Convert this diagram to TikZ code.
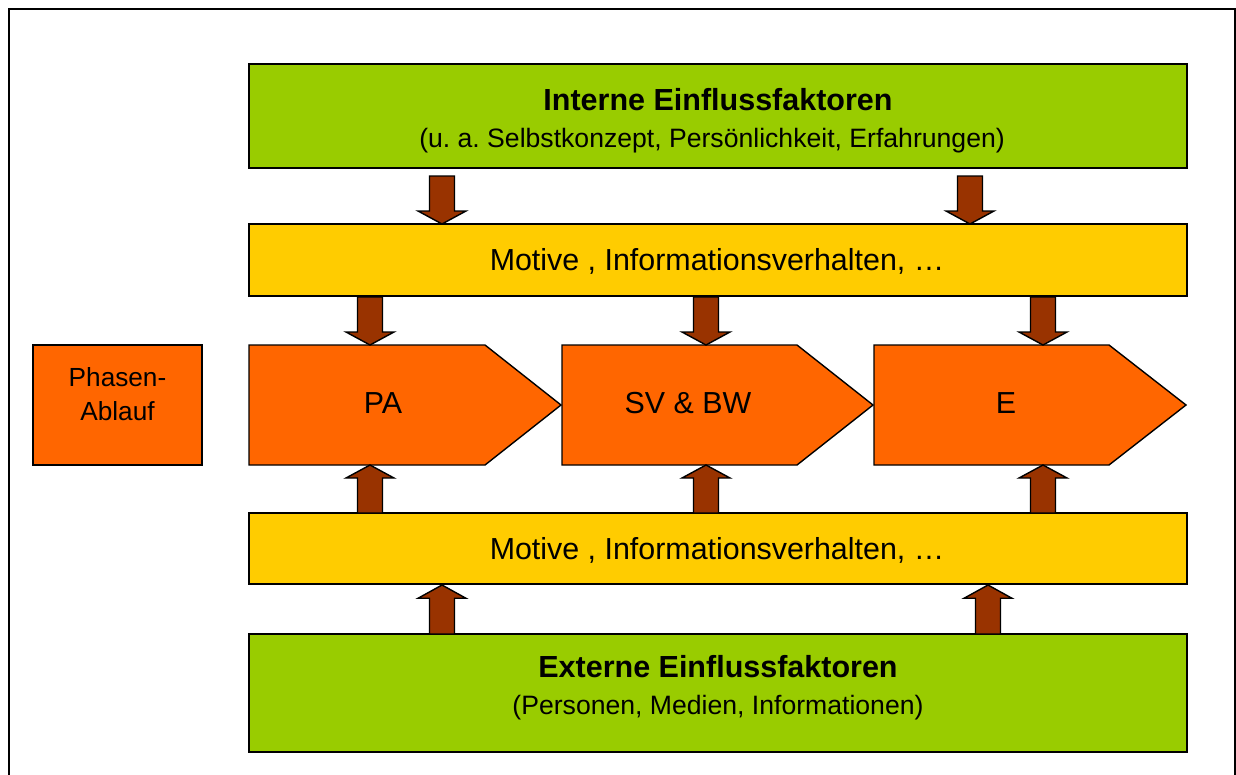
\documentclass[tikz,border=0pt]{standalone}
\usepackage{fontspec}
\setmainfont{Liberation Sans}
\frenchspacing
\definecolor{boxgreen}{HTML}{99CC00}
\definecolor{boxyellow}{HTML}{FFCC00}
\definecolor{boxorange}{HTML}{FF6600}
\definecolor{arrowbrown}{HTML}{993300}
\tikzset{
  band/.style={draw=black, line width=1.6pt, inner sep=0pt, minimum width=938pt},
  greenbox/.style={band, fill=boxgreen},
  yellowbox/.style={band, fill=boxyellow, minimum height=72pt},
  phasebox/.style={draw=black, line width=1.4pt, fill=boxorange},
  blockarrow/.style={draw=black, line width=1.4pt, fill=arrowbrown, line join=miter},
  titletext/.style={anchor=base, font=\fontsize{30.5}{36}\selectfont\bfseries},
  subtext/.style={anchor=base, font=\fontsize{26.6}{32}\selectfont},
  bandtext/.style={anchor=base, font=\fontsize{30.4}{36}\selectfont},
  smalltext/.style={anchor=base, font=\fontsize{26.2}{31}\selectfont},
}
% block arrow: x, tail y, tip y
\newcommand{\barrow}[3]{%
  \path[blockarrow] ({#1-12.5},#2) -- ({#1-12.5},{#3+(#2-#3)*13/48})
    -- ({#1-24},{#3+(#2-#3)*13/48}) -- (#1,#3) -- ({#1+24},{#3+(#2-#3)*13/48})
    -- ({#1+12.5},{#3+(#2-#3)*13/48}) -- ({#1+12.5},#2) -- cycle;}
\begin{document}
\begin{tikzpicture}[x=1pt,y=-1pt]
\useasboundingbox (0,0) rectangle (1236,774);
\begin{scope}
\clip (0,0) rectangle (1236,774);
\draw[line width=2pt] (9,790) -- (9,9) -- (1235,9) -- (1235,790);
\end{scope}

% top green box
\node[greenbox, minimum height=104pt] (intern) at (718,116) {};
\node[titletext] (internT) at (718,110) {Interne Einflussfaktoren};
\node[subtext] (internS) at (712,147) {(u. a. Selbstkonzept, Persönlichkeit, Erfahrungen)};

% yellow bands
\node[yellowbox] (mot1) at (718,260) {};
\node[bandtext] (mot1T) at (717,270) {Motive , Informationsverhalten, …};
\node[yellowbox, minimum height=71pt] (mot2) at (718,548.5) {};
\node[bandtext] (mot2T) at (717,559) {Motive , Informationsverhalten, …};

% bottom green box
\node[greenbox, minimum height=118pt] (extern) at (718,693) {};
\node[titletext] (externT) at (718,677) {Externe Einflussfaktoren};
\node[subtext] (externS) at (718,714) {(Personen, Medien, Informationen)};

% phase box
\node[phasebox, minimum width=169pt, minimum height=120pt] (phase) at (117.5,405) {};
\node[smalltext] (phaseA) at (117.5,386) {Phasen-};
\node[smalltext] (phaseB) at (117.5,420) {Ablauf};

% pentagons
\path[phasebox] (249,345) -- (485,345) -- (561,405) -- (485,465) -- (249,465) -- cycle;
\path[phasebox] (562,345) -- (797,345) -- (873,405) -- (797,465) -- (562,465) -- cycle;
\path[phasebox] (874,345) -- (1109,345) -- (1186,405) -- (1109,465) -- (874,465) -- cycle;
\node[bandtext] (pa) at (383,413) {PA};
\node[bandtext] (sv) at (688,413) {SV \& BW};
\node[bandtext] (e) at (1006,413) {E};

% block arrows
\barrow{442}{176}{224}
\barrow{970}{176}{224}
\barrow{370}{297}{345}
\barrow{706}{297}{345}
\barrow{1043}{297}{345}
\barrow{370}{513}{465}
\barrow{706}{513}{465}
\barrow{1043}{513}{465}
\barrow{442}{634}{585}
\barrow{988}{634}{585}
\end{tikzpicture}
\end{document}
